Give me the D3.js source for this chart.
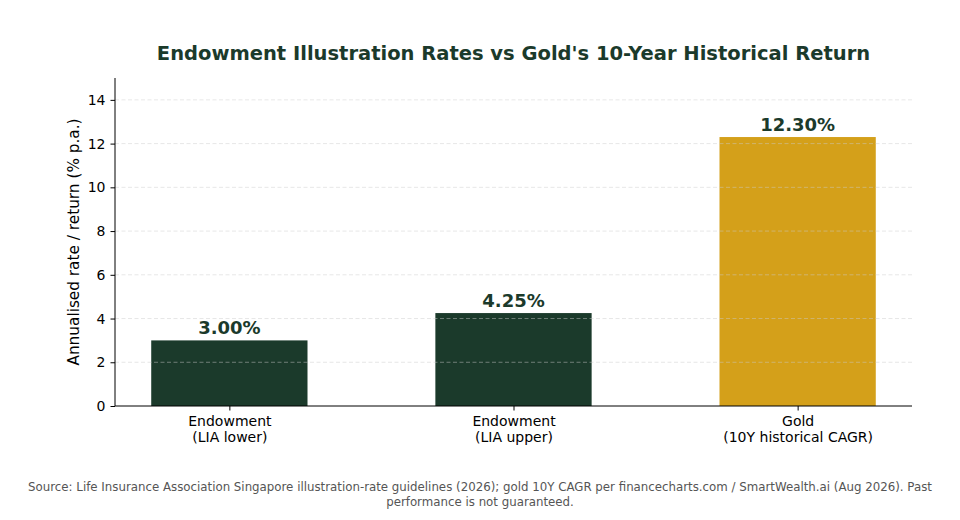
<!DOCTYPE html>
<html lang="en">
<head>
  <meta charset="UTF-8" />
  <title>Endowment vs Gold</title>
  <script src="https://d3js.org/d3.v7.min.js"></script>
  <style>
    body { margin: 0; background: #fff; }
    svg { font-family: "DejaVu Sans", sans-serif; display: block; }
  </style>
</head>
<body>
  <svg width="960" height="520"></svg>
  <script>
    // chart data
    const categories = [["Endowment", "(LIA lower)"], ["Endowment", "(LIA upper)"], ["Gold", "(10Y historical CAGR)"]];
    const values = [3.00, 4.25, 12.30];
    const colors = ["#1b3a2b", "#1b3a2b", "#d4a01a"];
    const yTicks = [0, 2, 4, 6, 8, 10, 12, 14];

    const svg = d3.select("svg");
    const margin = { top: 78, right: 48, bottom: 114, left: 115 };
    const width = 960 - margin.left - margin.right;
    const height = 520 - margin.top - margin.bottom;
    const g = svg.append("g").attr("transform", `translate(${margin.left},${margin.top})`);

    const barW = 0.55;
    const x = d3.scaleLinear()
      .domain([-0.4025, values.length - 1 + 0.4025])
      .range([0, width]);
    const y = d3.scaleLinear().domain([0, 15]).range([height, 0]);

    // bars
    g.selectAll("rect.bar")
      .data(values)
      .enter()
      .append("rect")
      .attr("class", "bar")
      .attr("x", (d, i) => x(i - barW / 2))
      .attr("width", x(barW) - x(0))
      .attr("y", d => y(d))
      .attr("height", d => y(0) - y(d))
      .attr("fill", (d, i) => colors[i]);

    // grid (drawn faintly over bars like the source)
    g.selectAll("line.grid")
      .data(yTicks.filter(t => t > 0))
      .enter()
      .append("line")
      .attr("x1", 0)
      .attr("x2", width)
      .attr("y1", d => y(d))
      .attr("y2", d => y(d))
      .attr("stroke", "#cccccc")
      .attr("stroke-opacity", 0.6)
      .attr("stroke-dasharray", "4,2.5")
      .attr("stroke-width", 0.8);

    // value labels
    g.selectAll("text.val")
      .data(values)
      .enter()
      .append("text")
      .attr("x", (d, i) => x(i))
      .attr("y", d => y(d) - 6)
      .attr("text-anchor", "middle")
      .attr("font-size", "18px")
      .attr("font-weight", "bold")
      .attr("fill", "#1b3a2b")
      .text(d => d.toFixed(2) + "%");

    // y axis
    const yAxis = g.append("g")
      .call(d3.axisLeft(y).tickValues(yTicks).tickSize(4.5).tickPadding(5));
    yAxis.selectAll("text").attr("font-size", "14px").attr("fill", "#000").attr("font-family", "DejaVu Sans");
    yAxis.select(".domain").attr("d", `M0,0V${height}`).attr("stroke", "#000");

    // x axis
    const xAxis = g.append("g")
      .attr("transform", `translate(0,${height})`)
      .call(d3.axisBottom(x).tickValues(d3.range(values.length)).tickSize(4.5).tickFormat(""));
    xAxis.select(".domain").attr("d", `M0,0H${width}`).attr("stroke", "#000");
    xAxis.selectAll(".tick")
      .append("text")
      .attr("fill", "#000")
      .attr("font-size", "14px")
      .attr("font-family", "DejaVu Sans")
      .attr("text-anchor", "middle")
      .selectAll("tspan")
      .data((d, i) => categories[i])
      .enter()
      .append("tspan")
      .attr("x", 0)
      .attr("y", (d, i) => 20 + i * 16)
      .text(d => d);

    // y label
    svg.append("text")
      .attr("transform", `translate(79,${margin.top + height / 2}) rotate(-90)`)
      .attr("text-anchor", "middle")
      .attr("font-size", "15.3px")
      .attr("fill", "#000")
      .text("Annualised rate / return (% p.a.)");

    // title
    svg.append("text")
      .attr("x", margin.left + width / 2)
      .attr("y", 60)
      .attr("text-anchor", "middle")
      .attr("font-size", "19.5px")
      .attr("font-weight", "bold")
      .attr("fill", "#1b3a2b")
      .text("Endowment Illustration Rates vs Gold's 10-Year Historical Return");

    // source note
    const notes = [
      "Source: Life Insurance Association Singapore illustration-rate guidelines (2026); gold 10Y CAGR per financecharts.com / SmartWealth.ai (Aug 2026). Past",
      "performance is not guaranteed."
    ];
    svg.selectAll("text.note")
      .data(notes)
      .enter()
      .append("text")
      .attr("x", 480)
      .attr("y", (d, i) => 491 + i * 15)
      .attr("text-anchor", "middle")
      .attr("font-size", "11.8px")
      .attr("fill", "#555")
      .text(d => d);
  </script>
</body>
</html>
